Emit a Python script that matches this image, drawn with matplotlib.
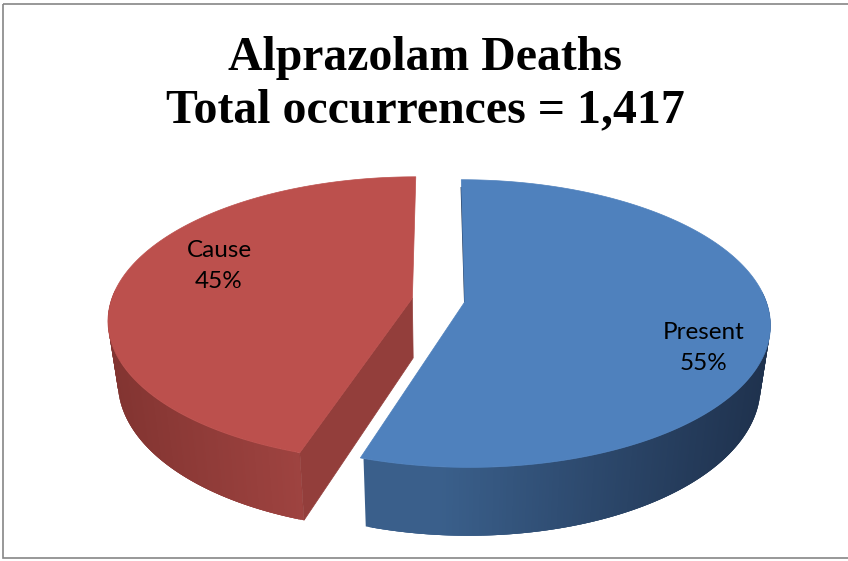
import numpy as np
import matplotlib
matplotlib.use("Agg")
import matplotlib.pyplot as plt
from matplotlib.colors import to_rgb
from matplotlib.patches import Rectangle

# ---- data ----
title_lines = ["Alprazolam Deaths", "Total occurrences = 1,417"]
categories = ["Present", "Cause"]
shares = [55, 45]

# ---- style ----
top_colors = {"Present": "#4F81BD", "Cause": "#BC504D"}
side_ramps = {"Present": ("#1F324E", "#3A5F8B"), "Cause": ("#9E4340", "#823431")}
cut_colors = {"Cause": "#933E3B"}
label_xy = {"Present": (704, 348), "Cause": (219, 266)}

# ---- projection of the tilted pie into pixel space ----
CX, CY = 438.5, 300.0
A, B, K, EXPLODE = 301.0, 140.0, 0.15, 0.088
SU, SV, DEPTH = 0.97, 1.05, 60.0


def project(X, Z, bottom=False):
    w = 1 + K * Z
    u, v = A * X / w, -B * Z / w
    if bottom:
        return CX + SU * u, CY + SV * v + DEPTH
    return CX + u, CY + v


fig = plt.figure(figsize=(8.48, 5.61), dpi=100, facecolor="white")
ax = fig.add_axes([0, 0, 1, 1])
ax.set_xlim(0, 848)
ax.set_ylim(561, 0)
ax.axis("off")
ax.add_patch(Rectangle((2.5, 3.5), 850, 554.5, fill=False, ec="#868686", lw=1.2))

start = 0.0
slices = []
for name, share in zip(categories, shares):
    sweep = 2 * np.pi * share / sum(shares)
    slices.append((name, start, start + sweep))
    start += sweep

for name, t0, t1 in slices:
    mid = (t0 + t1) / 2
    ox, oz = EXPLODE * np.sin(mid), EXPLODE * np.cos(mid)
    th = np.linspace(t0, t1, 361)
    X, Z = ox + np.sin(th), oz + np.cos(th)
    xt, yt = project(X, Z)
    xb, yb = project(X, Z, bottom=True)
    ax0t, ay0t = project(ox, oz)
    ax0b, ay0b = project(ox, oz, bottom=True)

    # outer wall: only the part facing the viewer; each quad overlaps the next
    lo, hi = (to_rgb(c) for c in side_ramps[name])
    front = np.where(np.cos(th) < 0.05)[0]
    order = front if name == "Cause" else front[::-1]
    for i in order[:-1] if name == "Cause" else order[1:]:
        j = i + 1 if name == "Cause" else i - 1
        if name == "Present":
            f = np.clip((xt.max() - xt[i]) / 330, 0, 1) ** 1.1
        else:
            f = 1 - (xt[i] - xt.min()) / (xt[front[0]] - xt.min() + 1e-9)
        f = np.clip(f, 0, 1)
        col = tuple(l + (h - l) * f for l, h in zip(lo, hi))
        k = np.clip(j + (j - i) * 2, 0, len(th) - 1)
        ax.fill([xt[i], xt[k], xb[k], xb[i]], [yt[i], yt[k], yb[k], yb[i]],
                color=col, lw=0, zorder=2)

    # visible cut face of the red slice; dark sliver along the blue slice's back cut
    if name in cut_colors:
        ax.fill([ax0t, xt[0], xb[0], ax0b], [ay0t, yt[0], yb[0], ay0b],
                color=cut_colors[name], lw=0.5, zorder=3)
    else:
        ax.plot([xt[0], ax0t], [yt[0] + 8, ay0t], color="#1F3350", lw=1.0, zorder=3)

    # top surface
    ax.fill(np.r_[ax0t, xt], np.r_[ay0t, yt], color=top_colors[name], lw=0.5, zorder=4)

    ax.text(*label_xy[name], f"{name}\n{shares[categories.index(name)]}%",
            family="Lato", fontsize=17.5, color="black", ha="center", va="center",
            linespacing=1.62, zorder=5)

ax.text(425, 84.5, "\n".join(title_lines), family="Liberation Serif", weight="bold",
        fontsize=34.4, color="black", ha="center", va="center", linespacing=1.24)

fig.savefig("out.png", dpi=100)
